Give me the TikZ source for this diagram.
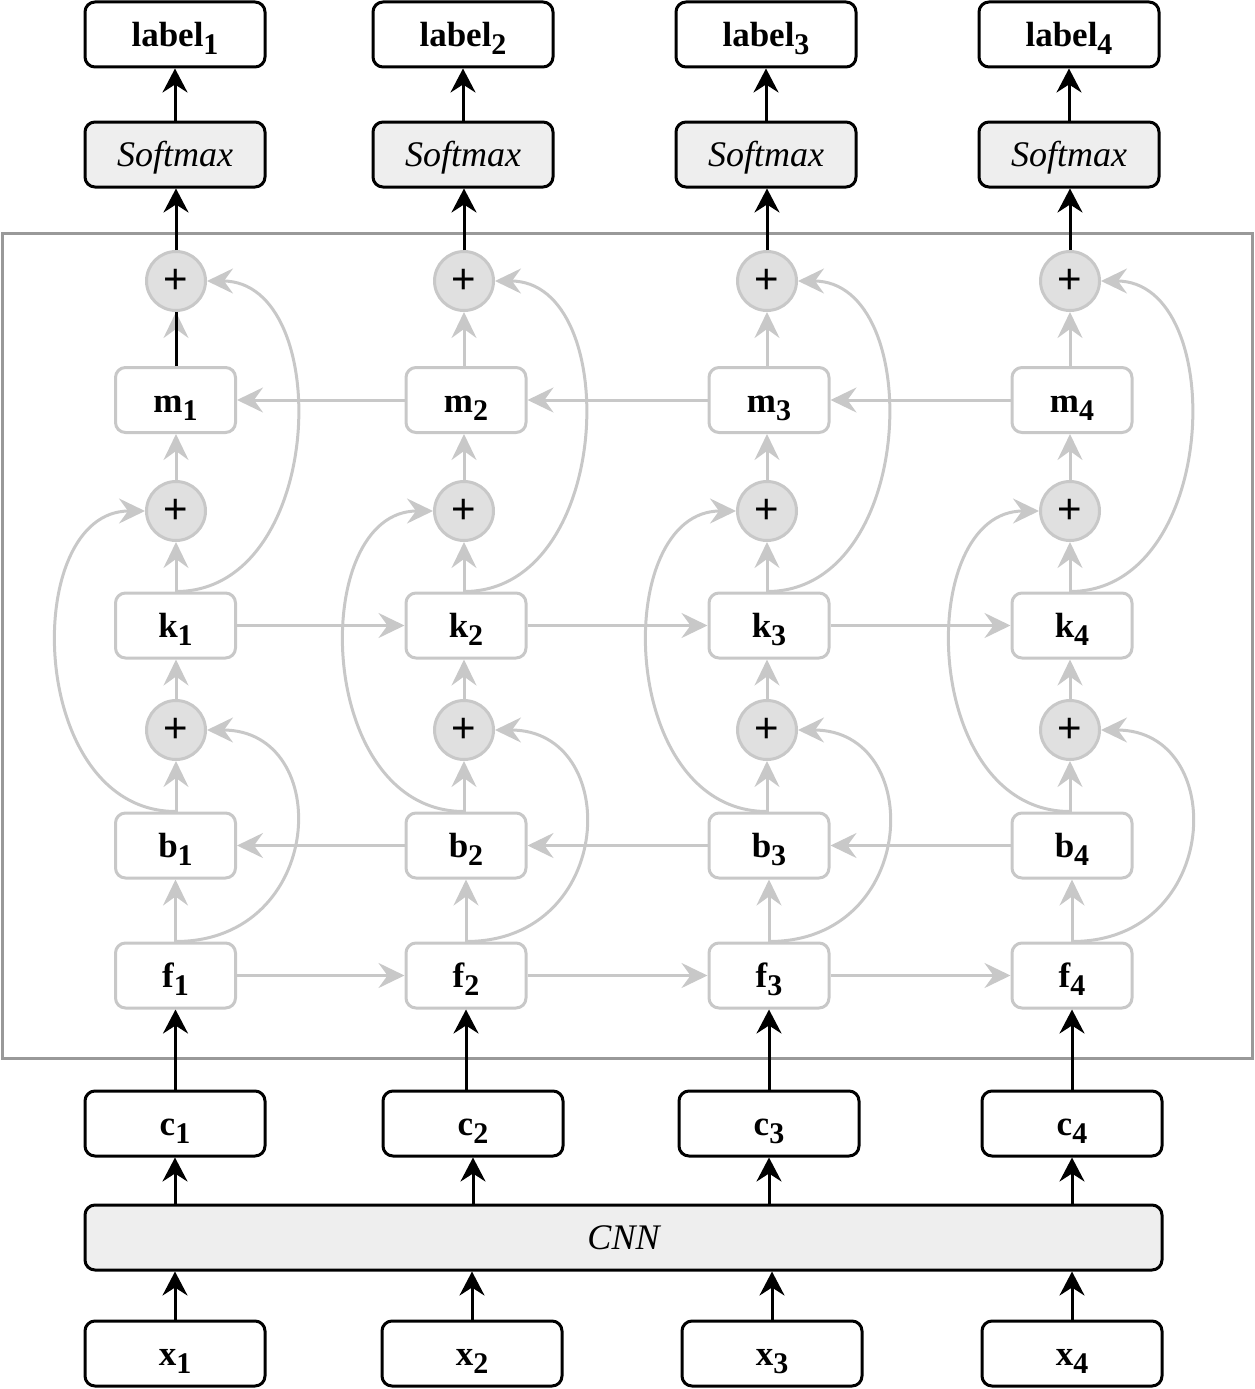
\documentclass[tikz,border=0pt]{standalone}
\usepackage{fontspec}
\setmainfont{Liberation Serif}
\newfontfamily\plfont{Liberation Sans}
\usetikzlibrary{arrows.meta}
\definecolor{lg}{HTML}{C8C8C8}
\definecolor{cf}{HTML}{E0E0E0}
\definecolor{sf}{HTML}{EEEEEE}
\definecolor{fr}{HTML}{999999}
\newcommand\sbs[1]{\raisebox{-8pt}{\fontsize{30}{30}\selectfont #1}}
\begin{document}
\begin{tikzpicture}[x=1pt,y=-1pt,
 every node/.style={inner sep=0pt, font=\fontsize{35}{40}\selectfont\bfseries, text height=24pt, text depth=0pt},
 bbox/.style={draw=black, line width=3pt, rounded corners=10pt, minimum width=180pt, minimum height=65pt, fill=white},
 sbox/.style={bbox, fill=sf, font=\fontsize{36}{40}\selectfont\itshape},
 gbox/.style={draw=lg, line width=3pt, rounded corners=10pt, minimum width=120pt, minimum height=65pt, fill=white},
 pl/.style={circle, draw=lg, fill=cf, line width=3pt, minimum size=59pt, text height=, text depth=, font=\fontsize{42}{42}\selectfont\plfont},
 ga/.style={draw=lg, line width=3pt, -{Stealth[length=26pt,width=25pt,inset=9pt]}},
 ba/.style={draw=black, line width=3pt, -{Stealth[length=24pt,width=25pt,inset=8pt]}}]
\useasboundingbox (0,0) rectangle (1254,1389);
\draw[fr, line width=3pt] (2,233) rectangle (1252,1058);
\node[sbox, minimum width=1077pt] (cnn) at (623.5,1237.5) {CNN};
\foreach \i/\lx/\bx/\px/\cx/\xx in {1/175/175.5/176/175/175, 2/463/466/464/473/472, 3/766/769/767/769/772, 4/1069/1072/1070/1072/1072}{
 \node[bbox] (lab\i) at (\lx,34.5) {label\sbs{\i}};
 \node[sbox] (soft\i) at (\lx,154.5) {Softmax};
 \node[pl] (pt\i) at (\px,281) {+};
 \node[gbox] (m\i) at (\bx,400) {m\sbs{\i}};
 \node[pl] (pm\i) at (\px,511) {+};
 \node[gbox] (k\i) at (\bx,625.5) {k\sbs{\i}};
 \node[pl] (pb\i) at (\px,730) {+};
 \node[gbox] (b\i) at (\bx,845.5) {b\sbs{\i}};
 \node[gbox] (f\i) at (\bx,975.5) {f\sbs{\i}};
 \node[bbox] (c\i) at (\cx,1123.5) {c\sbs{\i}};
 \node[bbox] (x\i) at (\xx,1353.5) {x\sbs{\i}};
 \draw[ba] (soft\i) -- (lab\i);
 \draw[ba] (pt\i.north) -- (soft\i.south -| pt\i.north);
 \draw[ga] (m\i.north -| pt\i) -- (pt\i.south);
 \draw[ga] (pm\i.north) -- (m\i.south -| pm\i);
 \draw[ga] (k\i.north -| pm\i) -- (pm\i.south);
 \draw[ga] (pb\i.north) -- (k\i.south -| pb\i);
 \draw[ga] (b\i.north -| pb\i) -- (pb\i.south);
 \draw[ga] (f\i) -- (b\i);
 \draw[ba] (c\i.north -| f\i) -- (f\i.south);
 \draw[ba] (cnn.north -| c\i) -- (c\i.south);
 \draw[ba] (x\i.north) -- (x\i |- cnn.south);
 \draw[ga] (k\i.north -| pm\i) .. controls +(150,0) and +(128,0) .. (pt\i.east);
 \draw[ga] (b\i.north -| pb\i) .. controls +(-150,0) and +(-125,0) .. (pm\i.west);
 \draw[ga] (f\i.north) .. controls +(150,0) and +(128,0) .. (pb\i.east);
}
\draw[black, line width=3pt] (m1.north -| pt1) -- (pt1.south);
\foreach \i/\j in {1/2,2/3,3/4}{
 \draw[ga] (m\j) -- (m\i);
 \draw[ga] (k\i) -- (k\j);
 \draw[ga] (b\j) -- (b\i);
 \draw[ga] (f\i) -- (f\j);
}
\end{tikzpicture}
\end{document}
